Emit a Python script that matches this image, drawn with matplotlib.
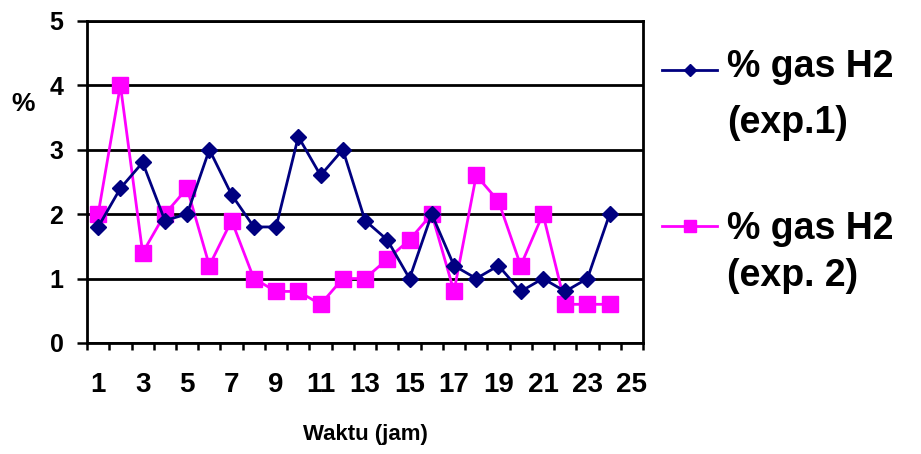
import matplotlib
matplotlib.use('Agg')
import matplotlib.pyplot as plt
import numpy as np
from matplotlib.lines import Line2D

plt.rcParams['font.family'] = 'Liberation Sans'
plt.rcParams['font.weight'] = 'bold'

jam = list(range(1, 25))
h2_exp1 = [1.8, 2.4, 2.8, 1.9, 2.0, 3.0, 2.3, 1.8, 1.8, 3.2, 2.6, 3.0,
           1.9, 1.6, 1.0, 2.0, 1.2, 1.0, 1.2, 0.8, 1.0, 0.8, 1.0, 2.0]
h2_exp2 = [2.0, 4.0, 1.4, 2.0, 2.4, 1.2, 1.9, 1.0, 0.8, 0.8, 0.6, 1.0,
           1.0, 1.3, 1.6, 2.0, 0.8, 2.6, 2.2, 1.2, 2.0, 0.6, 0.6, 0.6]
xlabels = [1, 3, 5, 7, 9, 11, 13, 15, 17, 19, 21, 23, 25]
yticks = [0, 1, 2, 3, 4, 5]

navy = '#000080'
pink = '#FF00FF'

fig = plt.figure(figsize=(9.21, 4.54), dpi=100)
ax = fig.add_axes([0.0945, 0.2445, 0.6037, 0.7100])

ax.plot(jam, h2_exp1, color=navy, lw=2, marker='D', ms=8.5, zorder=3)
ax.plot(jam, h2_exp2, color=pink, lw=2, marker='s', ms=11, zorder=2)

ax.set_xlim(0.5, 25.5)
ax.set_ylim(0, 5)
ax.set_yticks(yticks)
ax.set_xticks(xlabels)
ax.set_xticks(np.arange(0.5, 26, 1), minor=True)
ax.tick_params(axis='x', which='major', length=0, pad=21, labelsize=20)
ax.tick_params(axis='x', which='minor', length=5, width=1.8, direction='out')
ax.tick_params(axis='y', length=7, width=1.8, direction='out', pad=10, labelsize=18)
ax.grid(axis='y', color='black', lw=2)
ax.set_axisbelow(True)
for s in ax.spines.values():
    s.set_linewidth(2)
    s.set_color('black')

fig.text(23 / 921, 1 - 104 / 454, '%', fontsize=19, ha='center', va='center')
fig.text(365 / 921, 1 - 440 / 454, 'Waktu (jam)', fontsize=16, ha='center', va='baseline')

# legend drawn by hand so the handle sits on the first text line
fsz = 27
for col, mk, ms, hy, l1, l2, b1, b2 in [
        (navy, 'D', 6.5, 70, '% gas H2', '(exp.1)', 77, 133),
        (pink, 's', 9, 226, '% gas H2', '(exp. 2)', 239, 286)]:
    fig.add_artist(Line2D([662 / 921, 717 / 921], [1 - hy / 454] * 2,
                          color=col, lw=2, transform=fig.transFigure))
    fig.add_artist(Line2D([690 / 921], [1 - hy / 454], color=col, marker=mk,
                          ms=ms, transform=fig.transFigure))
    fig.text(727 / 921, 1 - b1 / 454, l1, fontsize=fsz, va='baseline')
    fig.text(727 / 921, 1 - b2 / 454, l2, fontsize=fsz, va='baseline')

fig.savefig('out.png', dpi=100)
